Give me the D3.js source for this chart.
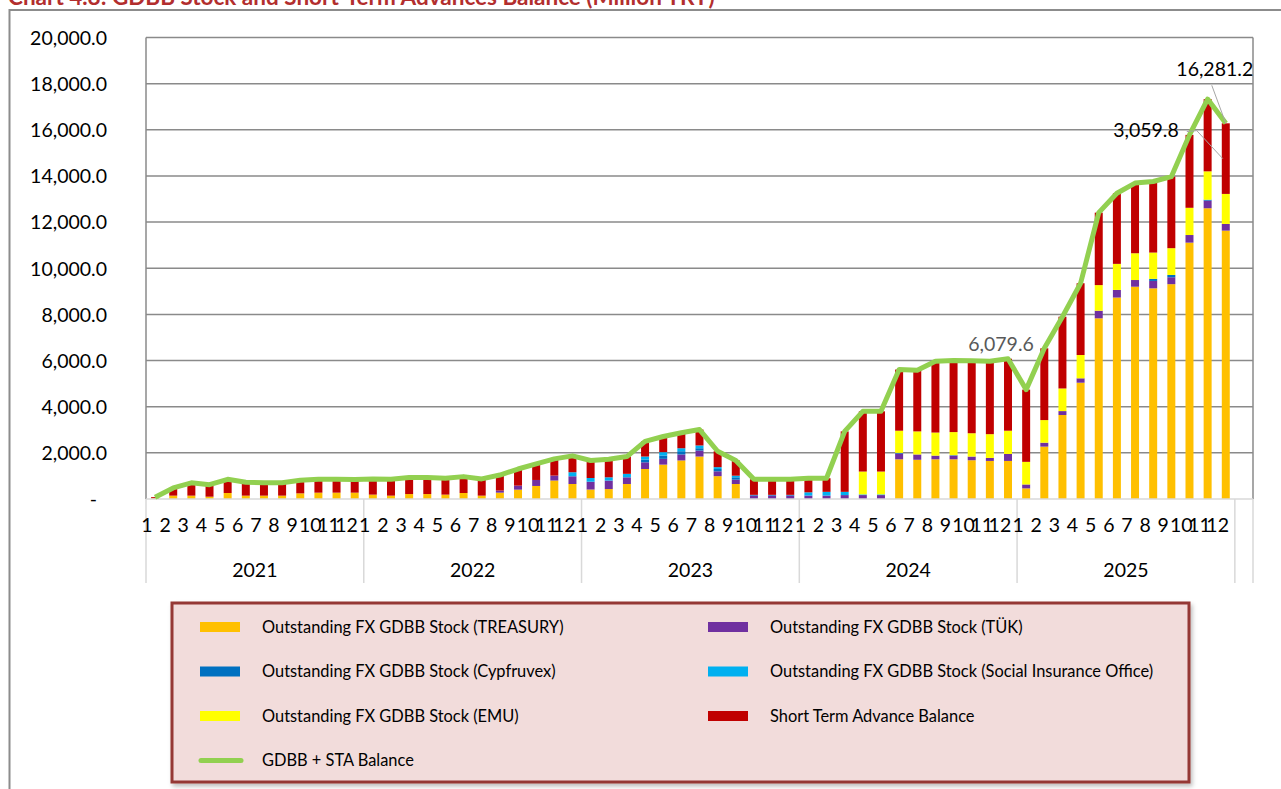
<!DOCTYPE html>
<html>
<head>
<meta charset="utf-8">
<script src="https://cdnjs.cloudflare.com/ajax/libs/d3/7.8.5/d3.min.js"></script>
<style>
    body { margin: 0; background: #fff; }
    svg text { font-family: Lato, "Open Sans", sans-serif; }
</style>
</head>
<body>
<div id="chart"></div>
<script>
    // years and months of the category axis
    var years = ['2021', '2022', '2023', '2024', '2025']
    var months = ['1', '2', '3', '4', '5', '6', '7', '8', '9', '10', '11', '12']

    // values (million TRY), one per month Jan 2021 .. Dec 2025
    var treasury = [30, 145, 145, 100, 260, 145, 145, 145, 245, 275, 275, 275,
        190, 145, 215, 215, 190, 260, 145, 275, 405, 565, 800, 650,
        410, 430, 650, 1300, 1490, 1670, 1840, 990, 650, 0, 0, 0,
        0, 0, 0, 0, 0, 1720, 1700, 1720, 1720, 1680, 1650, 1650,
        460, 2270, 3640, 5040, 7830, 8730, 9200, 9130, 9310, 11110, 12600, 11630]
    var tuk = [0, 0, 0, 0, 0, 0, 0, 0, 0, 0, 0, 0,
        0, 0, 0, 0, 0, 0, 0, 90, 175, 260, 215, 335,
        340, 370, 290, 290, 250, 260, 260, 210, 190, 150, 150, 150,
        150, 150, 170, 170, 170, 250, 230, 160, 160, 160, 130, 300,
        170, 170, 170, 190, 330, 330, 290, 320, 300, 330, 330, 290]
    var cypfruvex = [0, 0, 0, 0, 0, 0, 0, 0, 0, 0, 0, 0,
        0, 0, 0, 0, 0, 0, 0, 0, 0, 0, 0, 0,
        0, 0, 0, 120, 140, 140, 100, 100, 100, 30, 30, 30,
        0, 0, 0, 0, 0, 30, 0, 0, 20, 0, 0, 0,
        0, 0, 0, 0, 0, 0, 0, 90, 100, 0, 40, 0]
    var sio = [0, 0, 0, 0, 0, 0, 0, 0, 0, 0, 0, 0,
        0, 0, 0, 0, 0, 0, 0, 0, 0, 0, 0, 175,
        160, 140, 150, 130, 150, 130, 120, 80, 70, 0, 0, 0,
        140, 160, 140, 30, 30, 0, 0, 0, 0, 0, 0, 0,
        0, 0, 0, 0, 0, 0, 0, 0, 0, 0, 0, 0]
    var emu = [0, 0, 0, 0, 0, 0, 0, 0, 0, 0, 0, 0,
        0, 0, 0, 0, 0, 0, 0, 0, 0, 0, 0, 0,
        0, 0, 0, 0, 0, 0, 0, 0, 0, 0, 0, 0,
        0, 0, 0, 990, 990, 960, 1000, 1000, 1000, 1010, 1030, 1010,
        980, 980, 980, 1010, 1110, 1130, 1160, 1140, 1160, 1180, 1230, 1301.4]
    var sta = [50, 335, 555, 520, 595, 580, 555, 555, 565, 580, 580, 565,
        680, 710, 715, 715, 710, 710, 725, 675, 720, 695, 725, 710,
        760, 780, 750, 660, 680, 670, 690, 690, 660, 675, 675, 675,
        610, 590, 2620, 2610, 2610, 2650, 2650, 3090, 3100, 3140, 3160, 3119.6,
        3130, 3110, 3110, 3110, 3140, 3060, 3040, 3080, 3100, 3160, 3130, 3059.8]

    var yTicks = [0, 2000, 4000, 6000, 8000, 10000, 12000, 14000, 16000, 18000, 20000]

    var seriesNames = ['Outstanding FX GDBB Stock (TREASURY)', 'Outstanding FX GDBB Stock (TÜK)',
        'Outstanding FX GDBB Stock (Cypfruvex)', 'Outstanding FX GDBB Stock (Social Insurance Office)',
        'Outstanding FX GDBB Stock (EMU)', 'Short Term Advance Balance']
    var seriesColors = ['#FFC000', '#7030A0', '#0070C0', '#00B0F0', '#FFFF00', '#C00000']
    var lineName = 'GDBB + STA Balance'

    // rows for the stack layout
    var keys = ['treasury', 'tuk', 'cypfruvex', 'sio', 'emu', 'sta']
    var cols = [treasury, tuk, cypfruvex, sio, emu, sta]
    var rows = treasury.map(function (v, i) {
        var r = { i: i }
        keys.forEach(function (k, j) { r[k] = cols[j][i] })
        return r
    })
    var totals = rows.map(function (r) {
        return d3.sum(keys, function (k) { return r[k] })
    })

    var width = 1281
    var height = 789
    var plotL = 146, plotR = 1253, plotT = 37.5, plotB = 499
    var fs = '19.5px'   // axis + data label size

    var svg = d3.select('#chart')
        .append('svg')
        .attr('width', width)
        .attr('height', height)

    var defs = svg.append('defs')
    var shadow = defs.append('filter').attr('id', 'shadow')
        .attr('x', '-5%').attr('y', '-5%').attr('width', '110%').attr('height', '115%')
    shadow.append('feDropShadow')
        .attr('dx', 2).attr('dy', 3).attr('stdDeviation', 2)
        .attr('flood-color', '#000').attr('flood-opacity', 0.25)

    // title (cut by the top of the page) and outer frame
    svg.append('text')
        .attr('x', 8)
        .attr('y', 5)
        .attr('fill', '#B22E2E')
        .style('font-size', '22.5px')
        .style('font-weight', 'bold')
        .text('Chart 4.8: GDBB Stock and Short-Term Advances Balance (Million TRY)')

    svg.append('rect')
        .attr('x', 9.5).attr('y', 10)
        .attr('width', 1300).attr('height', 800)
        .attr('fill', 'none')
        .attr('stroke', '#8c8c8c')
        .attr('stroke-width', 2)

    // 60 months plus one empty slot at the end
    var x = d3.scaleBand()
        .domain(d3.range(61))
        .range([plotL, plotR])
        .paddingInner(0.56)
        .paddingOuter(0.28)
    var step = x.step()

    var y = d3.scaleLinear()
        .domain([0, 20000])
        .range([plotB, plotT])

    // gridlines
    svg.append('g')
        .selectAll('line')
        .data(yTicks.slice(1))
        .enter()
        .append('line')
        .attr('x1', plotL).attr('x2', plotR)
        .attr('y1', function (d) { return y(d) })
        .attr('y2', function (d) { return y(d) })
        .attr('stroke', '#8a8a8a')
        .attr('stroke-width', 1.5)

    // y axis labels
    var yAxis = d3.axisLeft(y)
        .tickValues(yTicks)
        .tickSize(0)
        .tickPadding(0)
        .tickFormat(function (d) { return d === 0 ? '-' : d3.format(',.1f')(d) })
    var ya = svg.append('g')
        .attr('transform', 'translate(107,0)')
        .call(yAxis)
    ya.select('.domain').remove()
    ya.selectAll('text')
        .attr('fill', '#000')
        .style('font-size', fs)
        .style('font-family', 'Lato, sans-serif')
        .attr('dy', '0.35em')
    ya.selectAll('.tick')
        .filter(function (d) { return d === 0 })
        .select('text')
        .attr('x', -10)

    // stacked bars
    var stack = d3.stack().keys(keys)
    var layers = stack(rows)

    svg.append('g')
        .selectAll('g')
        .data(layers)
        .enter()
        .append('g')
        .attr('fill', function (d, i) { return seriesColors[i] })
        .selectAll('rect')
        .data(function (d) { return d })
        .enter()
        .append('rect')
        .attr('x', function (d) { return x(d.data.i) })
        .attr('width', x.bandwidth())
        .attr('y', function (d) { return y(d[1]) })
        .attr('height', function (d) { return y(d[0]) - y(d[1]) })

    // plot frame
    svg.append('line')
        .attr('x1', plotL).attr('x2', plotL).attr('y1', plotT).attr('y2', plotB)
        .attr('stroke', '#8a8a8a').attr('stroke-width', 1.5)
    svg.append('line')
        .attr('x1', plotR).attr('x2', plotR).attr('y1', plotT).attr('y2', plotB)
        .attr('stroke', '#8a8a8a').attr('stroke-width', 1.5)
    svg.append('line')
        .attr('x1', plotL).attr('x2', plotR).attr('y1', plotB).attr('y2', plotB)
        .attr('stroke', '#d9d9d9').attr('stroke-width', 1.5)

    // category axis: year separators, month and year labels
    var seps = d3.range(years.length + 1).map(function (k) { return plotL + k * 12 * step })
    seps.push(plotR)
    svg.append('g')
        .selectAll('line')
        .data(seps)
        .enter()
        .append('line')
        .attr('x1', function (d) { return d }).attr('x2', function (d) { return d })
        .attr('y1', plotB).attr('y2', 583)
        .attr('stroke', '#d9d9d9').attr('stroke-width', 1.5)

    var monthLabels = []
    years.forEach(function (yr, a) {
        months.forEach(function (m, b) { monthLabels.push({ i: a * 12 + b, t: m }) })
    })
    svg.append('g')
        .selectAll('text')
        .data(monthLabels)
        .enter()
        .append('text')
        .attr('x', function (d) { return x(d.i) - x.bandwidth() * 0.64 + 1 })
        .attr('y', 532)
        .attr('text-anchor', 'middle')
        .style('font-size', fs)
        .text(function (d) { return d.t })

    svg.append('g')
        .selectAll('text')
        .data(years)
        .enter()
        .append('text')
        .attr('x', function (d, k) { return plotL + (k + 0.5) * 12 * step })
        .attr('y', 577)
        .attr('text-anchor', 'middle')
        .style('font-size', fs)
        .text(function (d) { return d })

    // total line
    var line = d3.line()
        .x(function (d, i) { return x(i) + x.bandwidth() / 2 })
        .y(function (d) { return y(d) })
    svg.append('path')
        .datum(totals)
        .attr('d', line)
        .attr('fill', 'none')
        .attr('stroke', '#92D050')
        .attr('stroke-width', 5)
        .attr('stroke-linejoin', 'round')

    // data labels
    var i24 = 47, i25 = 59
    var cx = function (i) { return x(i) + x.bandwidth() / 2 }
    svg.append('text')
        .attr('x', cx(i24) - 7)
        .attr('y', y(totals[i24]) - 8)
        .attr('text-anchor', 'middle')
        .attr('fill', '#595959')
        .style('font-size', fs)
        .text(d3.format(',.1f')(totals[i24]))

    var lead = d3.line()
    svg.append('path')
        .attr('d', lead([[cx(i25) - 14, y(totals[i25]) - 38], [cx(i25), y(totals[i25])]]))
        .attr('stroke', '#a6a6a6').attr('fill', 'none')
    svg.append('text')
        .attr('x', cx(i25) - 11)
        .attr('y', y(totals[i25]) - 47)
        .attr('text-anchor', 'middle')
        .attr('fill', '#000')
        .style('font-size', fs)
        .text(d3.format(',.1f')(totals[i25]))

    var staMid = y(totals[i25] - sta[i25] / 2)
    svg.append('path')
        .attr('d', lead([[cx(i25) - 39, staMid - 27], [cx(i25) - 29, staMid - 28], [cx(i25) - 3, staMid]]))
        .attr('stroke', '#a6a6a6').attr('fill', 'none')
    svg.append('text')
        .attr('x', cx(i25) - 47)
        .attr('y', staMid - 22)
        .attr('text-anchor', 'end')
        .attr('fill', '#000')
        .style('font-size', fs)
        .text(d3.format(',.1f')(sta[i25]))

    // legend
    var lg = svg.append('g')
    lg.append('rect')
        .attr('x', 172).attr('y', 603)
        .attr('width', 1017).attr('height', 179)
        .attr('fill', '#F2DCDB')
        .attr('stroke', '#953735')
        .attr('stroke-width', 3)
        .attr('filter', 'url(#shadow)')

    var items = seriesNames.map(function (n, i) {
        return { name: n, color: seriesColors[i], col: i % 2, row: Math.floor(i / 2), line: false }
    })
    items.push({ name: lineName, color: '#92D050', col: 0, row: 3, line: true })

    var it = lg.selectAll('g.item')
        .data(items)
        .enter()
        .append('g')
        .attr('class', 'item')
        .attr('transform', function (d) {
            return 'translate(' + (d.col ? 708 : 200) + ',' + (627 + d.row * 44.5) + ')'
        })
    it.filter(function (d) { return !d.line })
        .append('rect')
        .attr('x', 0).attr('y', -5)
        .attr('width', 40).attr('height', 10)
        .attr('fill', function (d) { return d.color })
    it.filter(function (d) { return d.line })
        .append('line')
        .attr('x1', 1).attr('x2', 41)
        .attr('stroke', function (d) { return d.color })
        .attr('stroke-width', 5)
        .attr('stroke-linecap', 'round')
    it.append('text')
        .attr('x', 62)
        .attr('y', 5.5)
        .style('font-size', '16.4px')
        .text(function (d) { return d.name })
</script>
</body>
</html>
